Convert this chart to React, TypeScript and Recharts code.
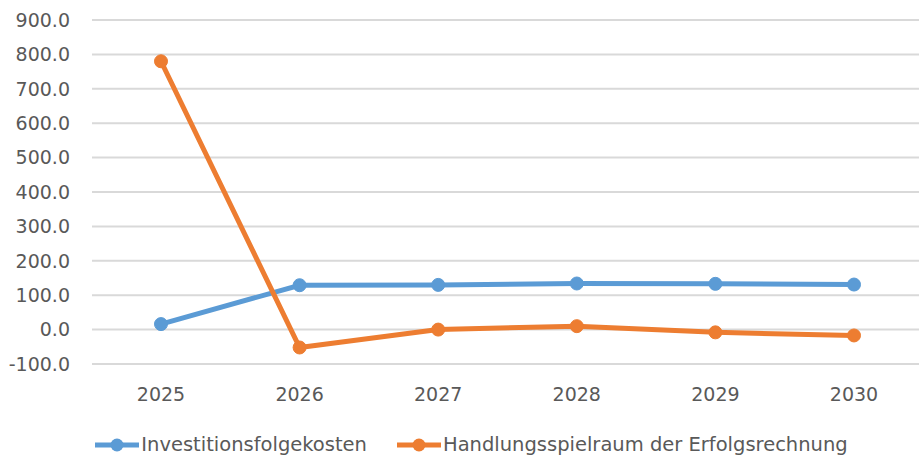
import { LineChart, Line, XAxis, YAxis, CartesianGrid, Legend } from 'recharts';

const years = ['2025', '2026', '2027', '2028', '2029', '2030'];
const investitionsfolgekosten = [16, 129, 130, 134, 133, 131];
const handlungsspielraum = [780, -52, 0, 10, -8, -17];
const yTicks = [-100, 0, 100, 200, 300, 400, 500, 600, 700, 800, 900];
const seriesNames = ['Investitionsfolgekosten', 'Handlungsspielraum der Erfolgsrechnung'];

const BLUE = '#5B9BD5';
const ORANGE = '#ED7D31';
const TEXT = '#595959';
const FONT = '"DejaVu Sans", sans-serif';

const data = years.map((year, i) => ({
  year,
  inv: investitionsfolgekosten[i],
  hsp: handlungsspielraum[i],
}));

function LegendContent({ payload }: any) {
  const items = seriesNames
    .map((name) => (payload || []).find((p: any) => p.value === name))
    .filter(Boolean);
  return (
    <div style={{ display: 'flex', justifyContent: 'center', gap: 30, paddingTop: 19, paddingLeft: 20, fontFamily: FONT, fontSize: 19.5, color: TEXT }}>
      {items.map((entry: any) => (
        <div key={entry.value} style={{ display: 'flex', alignItems: 'center' }}>
          <svg width={44} height={16} style={{ marginRight: 2 }}>
            <line x1={0} y1={8} x2={44} y2={8} stroke={entry.color} strokeWidth={5} />
            <circle cx={22} cy={8} r={6.5} fill={entry.color} />
          </svg>
          <span>{entry.value}</span>
        </div>
      ))}
    </div>
  );
}

export default function App() {
  return (
    <div style={{ position: 'absolute', left: 0, top: 0, width: 919, height: 464, overflow: 'hidden', background: '#fff' }}>
      <LineChart width={932} height={464} data={data} margin={{ top: 20, right: 9, bottom: 0, left: 0 }}>
        <CartesianGrid vertical={false} stroke="#D9D9D9" strokeWidth={2} />
        <XAxis
          dataKey="year"
          axisLine={false}
          tickLine={false}
          padding={{ left: 69, right: 69 }}
          tick={{ fill: TEXT, fontSize: 19, fontFamily: FONT }}
          tickMargin={18}
          height={50}
        />
        <YAxis
          domain={[-100, 900]}
          ticks={yTicks}
          interval={0}
          axisLine={false}
          tickLine={false}
          width={92}
          tickMargin={16}
          tickFormatter={(v: number) => v.toFixed(1)}
          tick={{ fill: TEXT, fontSize: 19, fontFamily: FONT }}
        />
        <Legend verticalAlign="bottom" height={50} content={<LegendContent />} />
        <Line
          name={seriesNames[0]}
          dataKey="inv"
          stroke={BLUE}
          strokeWidth={5}
          dot={{ r: 6.5, fill: BLUE, stroke: BLUE, strokeWidth: 1 }}
          isAnimationActive={false}
        />
        <Line
          name={seriesNames[1]}
          dataKey="hsp"
          stroke={ORANGE}
          strokeWidth={5}
          dot={{ r: 6.5, fill: ORANGE, stroke: ORANGE, strokeWidth: 1 }}
          isAnimationActive={false}
        />
      </LineChart>
    </div>
  );
}
